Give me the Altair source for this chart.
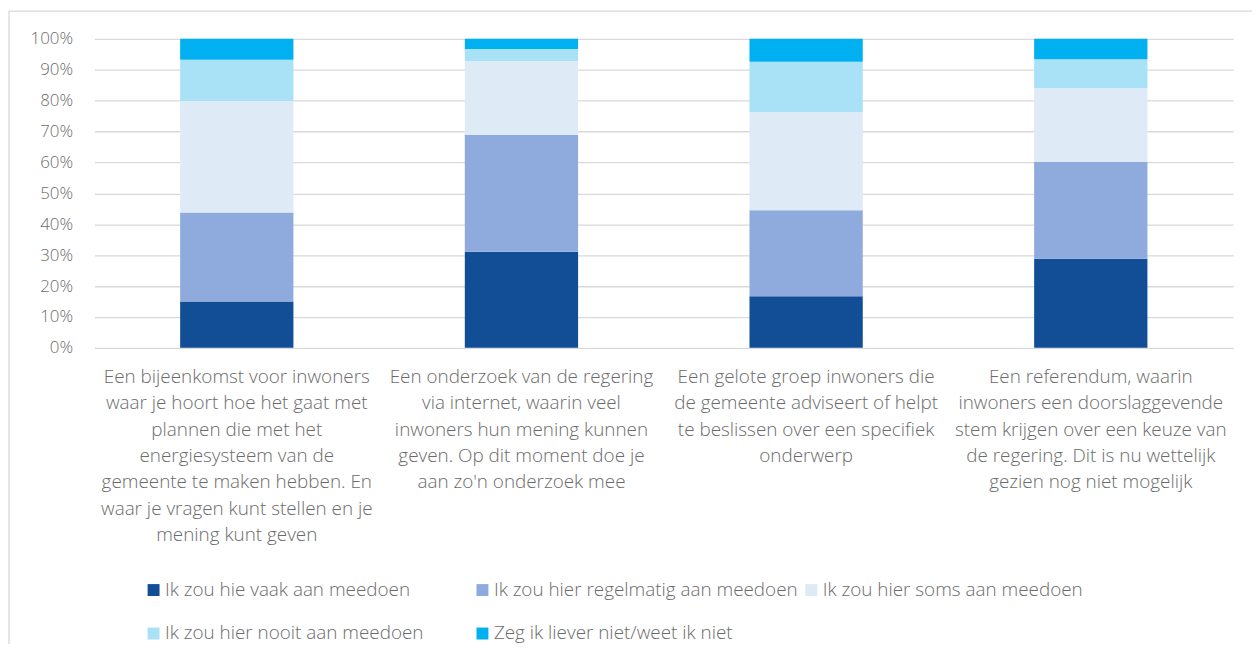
import altair as alt
import pandas as pd

# ---- data ----
categories = [
    "Een bijeenkomst voor inwoners|waar je hoort hoe het gaat met|plannen die met het|energiesysteem van de|gemeente te maken hebben. En|waar je vragen kunt stellen en je|mening kunt geven",
    "Een onderzoek van de regering|via internet, waarin veel|inwoners hun mening kunnen|geven. Op dit moment doe je|aan zo'n onderzoek mee",
    "Een gelote groep inwoners die|de gemeente adviseert of helpt|te beslissen over een specifiek|onderwerp",
    "Een referendum, waarin|inwoners een doorslaggevende|stem krijgen over een keuze van|de regering. Dit is nu wettelijk|gezien nog niet mogelijk",
]
series = [
    "Ik zou hie vaak aan meedoen",
    "Ik zou hier regelmatig aan meedoen",
    "Ik zou hier soms aan meedoen",
    "Ik zou hier nooit aan meedoen",
    "Zeg ik liever niet/weet ik niet",
]
vaak = [15.0, 31.1, 16.7, 28.8]
regelmatig = [28.8, 37.8, 27.8, 31.4]
soms = [36.1, 23.9, 31.8, 23.8]
nooit = [13.3, 3.9, 16.3, 9.4]
weetniet = [6.8, 3.3, 7.4, 6.6]
colors = ["#114E96", "#8FAADC", "#DEEAF6", "#A9E1F7", "#00B0F0"]
y_ticks = [0, 0.1, 0.2, 0.3, 0.4, 0.5, 0.6, 0.7, 0.8, 0.9, 1.0]

values = [vaak, regelmatig, soms, nooit, weetniet]
rows = []
for si, (s, vals) in enumerate(zip(series, values)):
    for ci, c in enumerate(categories):
        rows.append({"cat": c, "serie": s, "idx": si, "value": vals[ci] / 100.0})
df = pd.DataFrame(rows)

FONT = "Open Sans"
TXT = "#6b6b6b"
W, H = 1146, 311

bars = alt.Chart(df).mark_bar(size=114).encode(
    x=alt.X(
        "cat:N",
        sort=categories,
        scale=alt.Scale(paddingInner=0.6, paddingOuter=0.3),
        axis=alt.Axis(
            title=None,
            labelAngle=0,
            labelAlign="center",
            labelBaseline="top",
            labelExpr="split(datum.value, '|')",
            labelLineHeight=26.5,
            labelFontSize=19,
            labelFont=FONT,
            labelFontWeight=300,
            labelColor=TXT,
            labelPadding=20,
            labelLimit=0,
            ticks=False,
            domain=False,
            grid=False,
        ),
    ),
    y=alt.Y(
        "value:Q",
        stack="zero",
        scale=alt.Scale(domain=[0, 1], nice=False),
        axis=alt.Axis(
            title=None,
            format=".0%",
            values=y_ticks,
            labelFontSize=17,
            labelFont=FONT,
            labelFontWeight=300,
            labelColor=TXT,
            labelPadding=22,
            ticks=False,
            domain=False,
            gridColor="#D9D9D9",
            gridWidth=1.3,
        ),
    ),
    color=alt.Color(
        "serie:N",
        sort=series,
        scale=alt.Scale(domain=series, range=colors),
        legend=alt.Legend(
            title=None,
            orient="none",
            legendX=50,
            legendY=545,
            direction="horizontal",
            columns=3,
            gridAlign="all",
            columnPadding=3,
            rowPadding=24,
            symbolType="square",
            symbolSize=144,
            symbolStrokeWidth=0,
            labelOffset=2,
            labelFontSize=19,
            labelFont=FONT,
            labelFontWeight=300,
            labelColor=TXT,
            labelLimit=0,
        ),
    ),
    order=alt.Order("idx:Q", sort="ascending"),
)

border = alt.Chart(pd.DataFrame({"a": [0]})).mark_rect(
    filled=False, stroke="#D9D9D9", strokeWidth=1.3
).encode(
    x=alt.value(-86), x2=alt.value(W + 60), y=alt.value(-28), y2=alt.value(H + 400)
)

chart = (
    alt.layer(border, bars)
    .properties(
        width=W,
        height=H,
        autosize=alt.AutoSizeParams(type="none"),
        padding={"left": 87, "top": 29, "right": 19, "bottom": 296},
        background="white",
    )
    .configure_view(stroke=None)
)

chart.save("out.html", embed_options={"renderer": "svg", "actions": False})
